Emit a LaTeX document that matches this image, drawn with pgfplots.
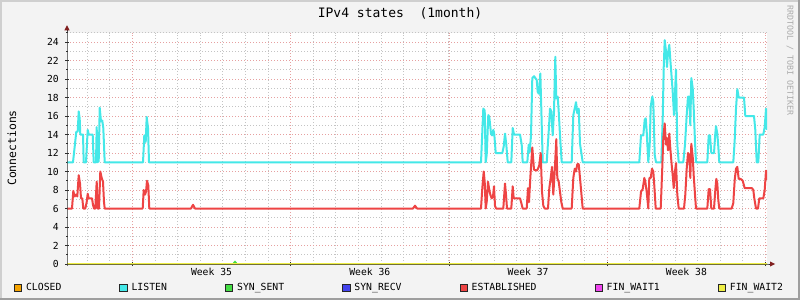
\documentclass[border=0pt]{standalone}
\usepackage{fontspec}
\setmainfont{DejaVu Sans Mono}
\usepackage{pgfplots}
\pgfplotsset{compat=1.18}
\definecolor{bgcol}{HTML}{F3F3F3}
\definecolor{shadeA}{HTML}{CFCFCF}
\definecolor{shadeB}{HTML}{9E9E9E}
\definecolor{axiscol}{HTML}{2E2E2E}
\definecolor{arrowcol}{HTML}{801F1F}
\definecolor{gridcol}{HTML}{C4C4C4}
\definecolor{mgridcol}{HTML}{E6A0A0}
\definecolor{wmcol}{HTML}{ABABAB}
\definecolor{cClosed}{HTML}{F5A300}
\definecolor{cListen}{HTML}{44E8E8}
\definecolor{cSynSent}{HTML}{44DD44}
\definecolor{cSynRecv}{HTML}{4444EE}
\definecolor{cEstab}{HTML}{EE4444}
\definecolor{cFin1}{HTML}{EE44EE}
\definecolor{cFin2}{HTML}{EEEE44}
\begin{document}
\begin{tikzpicture}
\fill[bgcol] (0pt,0pt) rectangle (800pt,300pt);
\fill[shadeA] (0pt,0pt) rectangle (2pt,300pt);
\fill[shadeA] (0pt,298pt) rectangle (800pt,300pt);
\fill[shadeB] (798pt,0pt) rectangle (800pt,300pt);
\fill[shadeB] (0pt,0pt) rectangle (800pt,2pt);
\path[use as bounding box] (0pt,0pt) rectangle (800pt,300pt);
\node[font=\fontsize{13}{15}\selectfont, inner sep=0pt] at (400pt,287pt) {IPv4 states\ \ (1month)};
\node[rotate=90, font=\fontsize{11.4}{13}\selectfont, inner sep=0pt] at (12pt,152pt) {Connections};
\node[rotate=-90, anchor=west, font=\fontsize{8.3}{10}\selectfont, text=wmcol, inner sep=0pt] at (790pt,295pt) {RRDTOOL / TOBI OETIKER};
\begin{axis}[
  at={(67pt,36pt)}, anchor=south west,
  scale only axis, width=700pt, height=231.25pt,
  xmin=67, xmax=767, ymin=0, ymax=25,
  axis background/.style={fill=white},
  axis line style={draw=none},
  clip mode=individual,
  xtick={132.3,290.6,448.9,607.2,765.5}, xticklabels={},
  minor xtick={87.1,109.71,...,766},
  extra x ticks={211.5,369.8,528.1,686.4},
  extra x tick labels={Week 35,Week 36,Week 37,Week 38},
  extra x tick style={grid=none, major tick length=0pt},
  ytick={0,2,...,24}, minor ytick={1,3,...,25},
  grid=both,
  major grid style={draw=mgridcol, dash pattern=on 1pt off 2pt, line width=0.8pt},
  minor grid style={draw=gridcol, dash pattern=on 1pt off 2pt, line width=0.8pt},
  xtick pos=left, ytick pos=left,
  tick align=center, major tick length=4pt, minor tick length=2pt,
  tick style={draw=axiscol, line width=0.7pt, solid},
  every tick label/.append style={font=\fontsize{9.7}{11}\selectfont, text=black},
  /pgf/number format/assume math mode=true,
  yticklabel style={inner sep=0pt, anchor=east, xshift=-6pt},
  xticklabel style={inner sep=0pt, anchor=north, yshift=-3.5pt},
  legend columns=7,
  legend image code/.code={\draw[#1] (0pt,-3.7pt) rectangle (7.4pt,3.7pt);},
  legend style={at={(0,0)}, anchor=west, xshift=-53pt, yshift=-24pt, draw=none, fill=none,
    inner sep=0pt, outer sep=0pt, font=\fontsize{9.8}{11}\selectfont, nodes={inner sep=0pt},
    /tikz/every odd column/.append style={column sep=4pt},
    /tikz/every even column/.append style={column sep=58pt}},
  legend cell align=left,
]
% CLOSED
\addplot[forget plot, draw=cClosed, line width=1.6pt] coordinates {(67,0) (767,0)};
% LISTEN
\addplot[forget plot, draw=cListen, line width=2pt, line join=round] coordinates {
(67,11) (73,11) (76.3,14.3) (77.7,14.3) (78.7,16.5) (79.7,15.7) (80.3,14) (83,14) (83.7,11) (86,11)
(87.7,14.5) (88.7,14) (92.7,14) (93.7,11) (96,11) (96.7,14.8) (97.3,11) (98.7,11.1) (99.7,16.9) (101,15.4)
(102.3,15.5) (103.3,14.7) (104.7,11) (143,11) (144.3,13.9) (145.7,13.2) (146.7,15.9) (148,14.7) (149,11)
(481,11) (483.3,16.8) (484.7,16.6) (485.7,11) (486.7,11.8) (488.3,16.1) (489.3,15.9) (491,14.1) (492,13.9)
(493.3,14.5) (494.3,14.0) (495.7,12) (502.3,12) (503.7,12.7) (505,14.1) (506.3,12.9) (507.7,11) (511.3,11)
(512.7,14.7) (514,14.0) (520,14.0) (521.7,12.9) (522.7,11) (527.3,11) (528.7,12.9) (529.7,12.1) (531,13.9)
(532.3,20.1) (534,20.3) (536.7,19.9) (537.7,18.6) (539,18.4) (540.3,20.6) (541.3,16.8) (542.7,11) (546.7,11)
(548.7,14.3) (550,16.8) (551.3,16.5) (552.7,13.9) (554,16.5) (555.3,22.4) (556.3,17.9) (557.7,18.1)
(558.7,16.5) (560,13.9) (561.7,11) (571.7,11) (573.3,16.1) (574.7,16.8) (576,17.5) (577.3,16.3) (578.7,16.8)
(580,13) (582.7,11) (639.3,11) (641,13.9) (643.3,13.9) (644.7,15.6) (645.7,15.75) (646.7,14.3) (648.3,11)
(649.7,12.9) (650.7,17) (652.3,18.1) (653.3,17.5) (654.7,11.8) (656,11) (661.3,11) (662.7,15.75) (663.7,21.2)
(664.7,24.2) (666,23) (667,21.3) (668,22.8) (669.3,23.7) (670.3,22.1) (671.7,20.1) (672.7,18.6) (674,16.1)
(675,18.5) (676,21) (677.3,12.9) (678.7,11) (683.3,11) (685,12.9) (686.7,16.1) (688,18.1) (689.3,18.1)
(690.3,15) (691.3,20.1) (692.7,19) (693.7,16.8) (695,13.2) (696,11) (707.3,11) (708.7,13.9) (710,13.9)
(711.3,12) (714,12) (715.3,14.1) (716,14.9) (717.3,14.1) (718.3,12.7) (719.3,11) (733.3,11) (734.7,13.4)
(736,16.8) (737.3,18.9) (738.7,18) (744,18) (745.3,16) (754,16) (755.3,14.5) (756.7,11) (758.3,11)
(759.7,14) (763.3,14) (764.7,14.8) (766,16.8) (767,14.5)};
% SYN_SENT
\addplot[forget plot, draw=cSynSent, line width=1.6pt] coordinates {(67,0) (233,0) (235,0.25) (237,0) (767,0)};
% SYN_RECV
\addplot[forget plot, draw=cSynRecv, line width=1.6pt] coordinates {(67,0) (767,0)};
% ESTABLISHED
\addplot[forget plot, draw=cEstab, line width=2pt, line join=round] coordinates {
(67,6) (72,6) (73.3,7.9) (74.7,7.3) (76,7.5) (77.3,7.3) (78.7,9.6) (80,8.7) (81,7.1) (82.3,7.1) (83.3,6)
(85.3,6) (86.7,6.7) (87.7,7.6) (88.7,7.1) (92,7.1) (93,6.4) (94,6) (95.3,6) (96.7,8.9) (97.7,6) (99,6)
(100.3,10) (101.7,9.3) (103,8.9) (104,6.7) (104.7,6) (142.7,6) (143.7,8) (145,7.5) (146,7.8) (147,9)
(148.3,8.5) (149.3,6) (191,6) (193,6.4) (195,6) (413,6) (415,6.3) (417,6) (481,6) (482.3,8.2) (483.7,10)
(484.7,8.9) (485.7,6) (486.7,6.7) (488,8.9) (489,8.2) (490.3,7.5) (491.7,7.1) (493,7.3) (494,8.4) (495,6.3)
(496,6) (503.3,6) (505,8.7) (506,7.5) (507,6) (511.3,6) (512.7,8.4) (513.7,7.1) (520,7.1) (521.3,6.6)
(522.7,6) (526.7,6) (528,8.2) (529,6.7) (530.3,9.3) (532.3,12.6) (534,10.2) (536.7,10.1) (538,10.3)
(539.3,10.7) (540.7,12) (542,7.8) (543.3,6.3) (544.7,6) (548,6) (549.3,8.2) (550.7,9.3) (552,10.5)
(553.3,7.5) (554.7,10) (556.3,13.5) (557.3,9.3) (558.7,8.9) (560,7.8) (561.3,6.7) (562.7,6) (571.7,6)
(573.3,9.3) (574.7,10.3) (576,10) (577.3,10.8) (578.7,10.8) (580,9.3) (582.7,6) (639.3,6) (641,7.8)
(642.7,8.1) (644.3,9.3) (645.3,8.9) (646.7,7.8) (648.3,6) (649.3,9.3) (650.7,9.3) (652,10.3) (653.3,10)
(654.3,8.5) (655.7,6) (660.7,6) (662,9.6) (663.3,13.6) (664.7,15.2) (666,12.9) (667,13.6) (668,12.3)
(669.3,14.1) (670.3,12.5) (671.7,10.7) (672.7,9.6) (673.7,8.2) (675,10) (676,10.9) (677.3,7.5) (678.7,6)
(684,6) (685.3,7.5) (686.7,10.3) (688,12) (689.3,11.8) (690.3,9.3) (691.3,13) (692.7,11.6) (693.7,9.6)
(695,7.5) (696,6) (707.3,6) (708.7,8.1) (710,8.1) (711.3,6) (714,6) (715.3,8) (716.3,9.2) (717.3,8.7)
(718.3,6.9) (719.3,6) (731.7,6) (733.3,6.6) (734.7,9.1) (736,10.3) (737.3,10.5) (738.7,9.2) (740.7,9.2)
(742.7,9) (744.7,8.2) (752,8.2) (753.3,8) (754.3,7.1) (756,6) (758,6) (759.3,7.1) (763.3,7.1) (764.7,8)
(766,10.1) (767,9.1)};
% FIN_WAIT1
\addplot[forget plot, draw=cFin1, line width=1.6pt] coordinates {(67,0) (767,0)};
% FIN_WAIT2
\addplot[forget plot, draw=cFin2, line width=1.6pt] coordinates {(67,0) (767,0)};
% axes
\draw[axiscol, line width=1pt] (rel axis cs:0,0) ++(-2pt,0pt) -- (rel axis cs:1,0) -- ++(4pt,0pt);
\draw[axiscol, line width=1pt] (rel axis cs:0,0) ++(0pt,-2pt) -- (rel axis cs:0,1) -- ++(0pt,3pt);
\fill[arrowcol] (rel axis cs:0,1) ++(-2.6pt,2.5pt) -- ++(5.2pt,0pt) -- ++(-2.6pt,5pt) -- cycle;
\fill[arrowcol] (rel axis cs:1,0) ++(3pt,-2.6pt) -- ++(0pt,5.2pt) -- ++(5pt,-2.6pt) -- cycle;
% legend
\addlegendimage{fill=cClosed, draw=black!85, line width=0.7pt}
\addlegendimage{fill=cListen, draw=black!85, line width=0.7pt}
\addlegendimage{fill=cSynSent, draw=black!85, line width=0.7pt}
\addlegendimage{fill=cSynRecv, draw=black!85, line width=0.7pt}
\addlegendimage{fill=cEstab, draw=black!85, line width=0.7pt}
\addlegendimage{fill=cFin1, draw=black!85, line width=0.7pt}
\addlegendimage{fill=cFin2, draw=black!85, line width=0.7pt}
\legend{CLOSED,LISTEN,SYN\_SENT,SYN\_RECV,ESTABLISHED,FIN\_WAIT1,FIN\_WAIT2}
\end{axis}
\end{tikzpicture}
\end{document}
